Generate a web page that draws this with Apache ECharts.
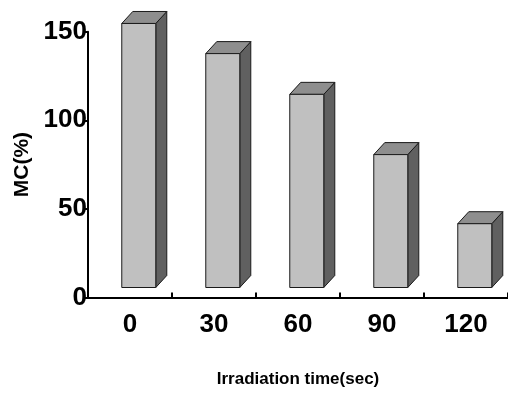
<!DOCTYPE html>
<html>
<head>
<meta charset="utf-8">
<script src="https://cdn.jsdelivr.net/npm/echarts@6/dist/echarts.min.js"></script>
<style>
  html, body { margin: 0; padding: 0; background: #ffffff; }
  #chart { width: 508px; height: 394px; }
</style>
</head>
<body>
<div id="chart"></div>
<script>
// Irradiation time categories (seconds)
const categories = ['0', '30', '60', '90', '120'];
// MC (%) per irradiation time
const mcValues = [149, 132, 109, 75, 36];
// Y axis tick range
const yMin = 0;
const yMax = 150;
const yStep = 50;

// Shading of the three visible faces of each box
const FRONT = '#c0c0c0';
const TOP = '#8e8e8e';
const SIDE = '#606060';
const EDGE = '#1a1a1a';

const chart = echarts.init(document.getElementById('chart'), null, { renderer: 'canvas' });

function renderBox(params, api) {
  const i = api.value(0);
  const v = api.value(1);
  const catW = api.size([1, 0])[0];
  const base = api.coord([i, 0]);
  const top = api.coord([i, v]);
  // boxes sit a little above the baseline and right of the category centre
  const lift = 10;
  const x0 = base[0] - catW * 0.098;
  const w = catW * 0.405;
  const yb = base[1] - lift;
  const yt = top[1] - lift;
  const dx = 11, dy = 12;
  const style = (fill) => ({ fill: fill, stroke: EDGE, lineWidth: 1 });
  return {
    type: 'group',
    children: [
      {
        type: 'polygon',
        shape: { points: [[x0 + w, yt], [x0 + w + dx, yt - dy], [x0 + w + dx, yb - dy], [x0 + w, yb]] },
        style: style(SIDE)
      },
      {
        type: 'polygon',
        shape: { points: [[x0, yt], [x0 + dx, yt - dy], [x0 + w + dx, yt - dy], [x0 + w, yt]] },
        style: style(TOP)
      },
      {
        type: 'rect',
        shape: { x: x0, y: yt, width: w, height: yb - yt },
        style: style(FRONT)
      }
    ]
  };
}

const tickFont = {
  fontFamily: '"Liberation Sans", Arial, sans-serif',
  fontWeight: 'bold',
  fontSize: 26,
  color: '#000'
};

chart.setOption({
  backgroundColor: '#ffffff',
  animation: false,
  grid: { left: 88, right: -2, top: 31.7, bottom: 96.5, containLabel: false },
  xAxis: {
    type: 'category',
    data: categories,
    boundaryGap: true,
    name: 'Irradiation time(sec)',
    nameLocation: 'middle',
    nameGap: 73,
    nameTextStyle: {
      fontFamily: '"Liberation Sans", Arial, sans-serif',
      fontWeight: 'bold',
      fontSize: 17,
      color: '#000'
    },
    axisLine: { lineStyle: { color: '#000', width: 2 } },
    axisTick: { show: true, inside: true, length: 5, alignWithLabel: false, lineStyle: { color: '#000', width: 2 } },
    axisLabel: Object.assign({ margin: 14 }, tickFont),
    splitLine: { show: false }
  },
  yAxis: {
    type: 'value',
    min: yMin,
    max: yMax,
    interval: yStep,
    name: 'MC(%)',
    nameLocation: 'middle',
    nameGap: 52,
    nameTextStyle: {
      fontFamily: '"Liberation Sans", Arial, sans-serif',
      fontWeight: 'bold',
      fontSize: 21,
      color: '#000'
    },
    axisLine: { show: true, lineStyle: { color: '#000', width: 2 } },
    axisTick: { show: true, inside: false, length: 4, lineStyle: { color: '#000', width: 2 } },
    axisLabel: Object.assign({ margin: 1 }, tickFont),
    splitLine: { show: false }
  },
  series: [{
    type: 'custom',
    clip: false,
    renderItem: renderBox,
    encode: { x: 0, y: 1 },
    data: mcValues.map((v, i) => [i, v])
  }]
});
</script>
</body>
</html>
